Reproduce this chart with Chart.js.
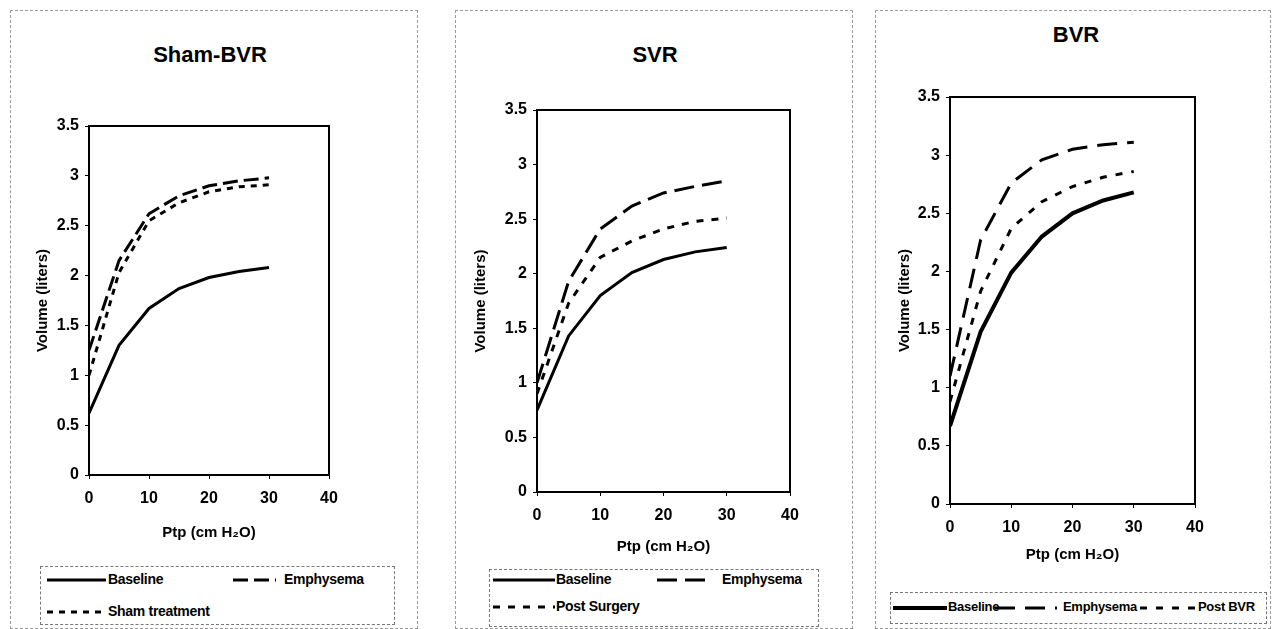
<!DOCTYPE html>
<html>
<head>
<meta charset="utf-8">
<script src="https://cdn.jsdelivr.net/npm/chart.js@4.4.1/dist/chart.umd.min.js"></script>
<style>
    body { margin: 0; background: #fff; width: 1273px; height: 629px; overflow: hidden; position: relative; font-family: 'Liberation Sans', Arial, sans-serif; }
    .frame { position: absolute; border: 1px dashed #9a9a9a; box-sizing: border-box; }
    .title { position: absolute; font-weight: bold; font-size: 22px; transform: translateX(-50%); white-space: nowrap; }
    .legendBox { position: absolute; border: 1px dashed #777; box-sizing: border-box; }
    .lg { position: absolute; font-weight: bold; font-size: 14px; line-height: 18px; white-space: nowrap; letter-spacing: -0.3px; }
    .sample { position: absolute; }
    canvas { position: absolute; }
</style>
</head>
<body>

<script>
// x values (Ptp, cm H2O)
const ptp = [0, 5, 10, 15, 20, 25, 30];

// Sham-BVR
const shamBaseline = [0.62, 1.30, 1.67, 1.87, 1.98, 2.04, 2.08];
const shamEmphysema = [1.25, 2.15, 2.62, 2.80, 2.90, 2.95, 2.98];
const shamTreatment = [1.00, 2.03, 2.55, 2.73, 2.84, 2.89, 2.91];

// SVR
const svrBaseline = [0.75, 1.43, 1.80, 2.01, 2.13, 2.20, 2.24];
const svrEmphysema = [1.00, 1.93, 2.41, 2.62, 2.74, 2.80, 2.85];
const svrPostSurgery = [0.90, 1.73, 2.15, 2.30, 2.41, 2.48, 2.51];

// BVR
const bvrBaseline = [0.67, 1.48, 1.99, 2.30, 2.50, 2.61, 2.68];
const bvrEmphysema = [1.10, 2.27, 2.76, 2.96, 3.05, 3.09, 3.11];
const bvrPostBVR = [0.88, 1.83, 2.37, 2.60, 2.73, 2.81, 2.86];

const panelTitles = ['Sham-BVR', 'SVR', 'BVR'];
const xAxisTitle = 'Ptp (cm H\u2082O)';
const yAxisTitle = 'Volume (liters)';
const xMin = 0, xMax = 40, xStep = 10;
const yMin = 0, yMax = 3.5, yStep = 0.5;

const FONT = "'Liberation Sans', Arial, sans-serif";

const panels = [
    {
        title: panelTitles[0], titleX: 210, titleY: 55,
        frame: [10, 10, 408, 619],
        canvas: [12, 12, 400, 545], area: [89, 126, 329, 475], yTitleX: 43, xTitleY: 533,
        legendBox: [40, 566, 355, 59], legendFont: 14,
        series: [
            { label: 'Baseline', data: shamBaseline, width: 3, dash: [], legend: [47, 59, 108, 580] },
            { label: 'Emphysema', data: shamEmphysema, width: 3, dash: [15, 6], legend: [233, 43, 284, 580] },
            { label: 'Sham treatment', data: shamTreatment, width: 3, dash: [6, 6], legend: [47, 59, 108, 612] }
        ]
    },
    {
        title: panelTitles[1], titleX: 655, titleY: 55,
        frame: [455, 10, 398, 619],
        canvas: [457, 12, 393, 555], area: [537, 110, 790, 492], yTitleX: 481, xTitleY: 547,
        legendBox: [489, 569, 330, 58], legendFont: 14,
        series: [
            { label: 'Baseline', data: svrBaseline, width: 3, dash: [], legend: [493, 62, 556, 580] },
            { label: 'Emphysema', data: svrEmphysema, width: 3, dash: [20, 8], legend: [657, 53, 722, 580] },
            { label: 'Post Surgery', data: svrPostSurgery, width: 3, dash: [7, 8], legend: [493, 62, 556, 607] }
        ]
    },
    {
        title: panelTitles[2], titleX: 1076, titleY: 35,
        frame: [875, 10, 396, 619],
        canvas: [877, 12, 392, 575], area: [950, 97, 1195, 504], yTitleX: 905, xTitleY: 555,
        legendBox: [890, 592, 377, 32], legendFont: 13,
        series: [
            { label: 'Baseline', data: bvrBaseline, width: 4, dash: [], legend: [893, 54, 948, 608] },
            { label: 'Emphysema', data: bvrEmphysema, width: 3, dash: [20, 10], legend: [995, 62, 1063, 608] },
            { label: 'Post BVR', data: bvrPostBVR, width: 3, dash: [7, 9], legend: [1140, 57, 1198, 608] }
        ]
    }
];

// box around the plot area
const plotFrame = {
    id: 'plotFrame',
    afterDatasetsDraw(chart) {
        const { ctx, chartArea: a } = chart;
        ctx.save();
        ctx.strokeStyle = '#000';
        ctx.lineWidth = 2;
        ctx.setLineDash([]);
        ctx.strokeRect(a.left, a.top, a.right - a.left, a.bottom - a.top);
        ctx.restore();
    }
};

function place(el, x, y, w, h) {
    el.style.left = x + 'px';
    el.style.top = y + 'px';
    if (w !== undefined) el.style.width = w + 'px';
    if (h !== undefined) el.style.height = h + 'px';
}

function buildPanel(p) {
    const frame = document.createElement('div');
    frame.className = 'frame';
    place(frame, ...p.frame);
    document.body.appendChild(frame);

    const title = document.createElement('div');
    title.className = 'title';
    title.textContent = p.title;
    place(title, p.titleX, p.titleY - 13);
    document.body.appendChild(title);

    const [cx, cy, cw, ch] = p.canvas;
    const [L, T, R, B] = p.area;
    const canvas = document.createElement('canvas');
    canvas.width = cw;
    canvas.height = ch;
    place(canvas, cx, cy, cw, ch);
    document.body.appendChild(canvas);

    const tickFont = { family: FONT, size: 16, weight: 'bold' };
    const titleFont = { family: FONT, size: 15, weight: 'bold', lineHeight: 1.2 };

    new Chart(canvas.getContext('2d'), {
        type: 'line',
        data: {
            datasets: p.series.map(s => ({
                label: s.label,
                data: ptp.map((x, i) => ({ x: x, y: s.data[i] })),
                borderColor: '#000',
                borderWidth: s.width,
                borderDash: s.dash,
                pointRadius: 0,
                tension: 0,
                fill: false
            }))
        },
        options: {
            responsive: false,
            animation: false,
            devicePixelRatio: 1,
            layout: { padding: { left: 0, top: T - cy, right: cx + cw - R, bottom: 0 } },
            plugins: { legend: { display: false }, tooltip: { enabled: false } },
            scales: {
                x: {
                    type: 'linear',
                    min: xMin, max: xMax,
                    afterFit(scale) { scale.height = cy + ch - B; },
                    ticks: { stepSize: xStep, color: '#000', font: tickFont, padding: 10, maxRotation: 0,
                             callback: v => String(v) },
                    grid: { display: true, drawOnChartArea: false, drawTicks: true, tickLength: 4, color: '#000', lineWidth: 1 },
                    border: { display: false },
                    title: {
                        display: true, text: xAxisTitle, color: '#000', font: titleFont,
                        padding: { top: 0, bottom: cy + ch - p.xTitleY - 9 }
                    }
                },
                y: {
                    type: 'linear',
                    min: yMin, max: yMax,
                    afterFit(scale) { scale.width = L - cx; },
                    ticks: { stepSize: yStep, color: '#000', font: tickFont, padding: 6,
                             callback: v => String(v) },
                    grid: { display: true, drawOnChartArea: false, drawTicks: true, tickLength: 4, color: '#000', lineWidth: 1 },
                    border: { display: false },
                    title: {
                        display: true, text: yAxisTitle, color: '#000', font: titleFont,
                        padding: { top: p.yTitleX - cx - 9, bottom: 0 }
                    }
                }
            }
        },
        plugins: [plotFrame]
    });

    const box = document.createElement('div');
    box.className = 'legendBox';
    place(box, ...p.legendBox);
    document.body.appendChild(box);

    p.series.forEach(s => {
        const [sx, sw, tx, ty] = s.legend;
        const svgNS = 'http://www.w3.org/2000/svg';
        const svg = document.createElementNS(svgNS, 'svg');
        svg.setAttribute('width', sw);
        svg.setAttribute('height', 10);
        svg.setAttribute('class', 'sample');
        svg.style.left = sx + 'px';
        svg.style.top = (ty - 5) + 'px';
        const line = document.createElementNS(svgNS, 'line');
        line.setAttribute('x1', 0);
        line.setAttribute('y1', 5);
        line.setAttribute('x2', sw);
        line.setAttribute('y2', 5);
        line.setAttribute('stroke', '#000');
        line.setAttribute('stroke-width', s.width);
        if (s.dash.length) line.setAttribute('stroke-dasharray', s.dash.join(' '));
        svg.appendChild(line);
        document.body.appendChild(svg);

        const txt = document.createElement('div');
        txt.className = 'lg';
        txt.style.fontSize = p.legendFont + 'px';
        txt.textContent = s.label;
        place(txt, tx, ty - 10);
        document.body.appendChild(txt);
    });
}

panels.forEach(buildPanel);
</script>
</body>
</html>
